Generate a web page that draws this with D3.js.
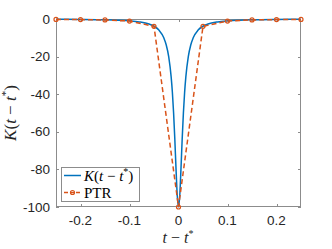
<!DOCTYPE html>
<html><head><meta charset="utf-8">
<script src="https://cdn.jsdelivr.net/npm/d3@7"></script>
<style>body{margin:0;background:#fff}svg{display:block}</style>
</head><body>
<script>
// Data
const kT = [-0.25,-0.2,-0.15,-0.125,-0.1,-0.08,-0.06,-0.05,-0.04,-0.03,-0.025,-0.02,-0.015,-0.0125,-0.01,-0.0075,-0.005,-0.0025,0,
            0.0025,0.005,0.0075,0.01,0.0125,0.015,0.02,0.025,0.03,0.04,0.05,0.06,0.08,0.1,0.125,0.15,0.2,0.25];
const kV = [-0.16,-0.25,-0.44,-0.64,-0.99,-1.54,-2.7,-3.85,-5.88,-10,-13.8,-20,-30.8,-39,-50,-64,-80,-94.1,-100,
            -94.1,-80,-64,-50,-39,-30.8,-20,-13.8,-10,-5.88,-3.85,-2.7,-1.54,-0.99,-0.64,-0.44,-0.25,-0.16];
const ptrT = [-0.25,-0.2,-0.15,-0.1,-0.05,0,0.05,0.1,0.15,0.2,0.25];
const ptrV = [-0.2,-0.3,-0.5,-1.1,-3.9,-100,-3.9,-1.1,-0.5,-0.3,-0.2];
const xTicks = [-0.2,-0.1,0,0.1,0.2];
const yTicks = [0,-20,-40,-60,-80,-100];

const W=332,H=249, L=56, R=301, T=19, B=207;
const blue="#0072BD", orange="#D95319";
const svg=d3.select("body").append("svg").attr("width",W).attr("height",H);
const x=d3.scaleLinear().domain([-0.25,0.25]).range([L,R]);
const y=d3.scaleLinear().domain([-100,0]).range([B,T]);

const tickFont="'Liberation Sans', Arial, sans-serif";
const axCol="#8c8c8c";
svg.append("rect").attr("x",L+0.5).attr("y",T+0.5).attr("width",R-L-1).attr("height",B-T-1)
  .attr("fill","none").attr("stroke",axCol).attr("stroke-width",1);
const g=svg.append("g").attr("stroke",axCol).attr("stroke-width",1);
xTicks.forEach(v=>{const px=Math.round(x(v))+0.5;
  g.append("line").attr("x1",px).attr("x2",px).attr("y1",B).attr("y2",B-3);
  g.append("line").attr("x1",px).attr("x2",px).attr("y1",T).attr("y2",T+3);});
yTicks.forEach(v=>{const py=Math.round(y(v))+0.5;
  g.append("line").attr("x1",L).attr("x2",L+3).attr("y1",py).attr("y2",py);
  g.append("line").attr("x1",R).attr("x2",R-3).attr("y1",py).attr("y2",py);});
svg.selectAll(".xl").data(xTicks).enter().append("text")
  .attr("x",d=>x(d)).attr("y",225).attr("text-anchor","middle")
  .attr("font-family",tickFont).attr("font-size",13.5).attr("fill","#262626")
  .text(d=>d===0?"0":d3.format(".1f")(d).replace("−","-"));
svg.selectAll(".yl").data(yTicks).enter().append("text")
  .attr("x",50).attr("y",d=>y(d)+4.5).attr("text-anchor","end")
  .attr("font-family",tickFont).attr("font-size",13.5).attr("fill","#262626")
  .text(d=>String(d));

const kData=kT.map((t,i)=>[t,kV[i]]);
const pData=ptrT.map((t,i)=>[t,ptrV[i]]);
svg.append("path").attr("d",d3.line().x(d=>x(d[0])).y(d=>y(d[1])).curve(d3.curveMonotoneX)(kData)).attr("fill","none")
  .attr("stroke",blue).attr("stroke-width",1.5);
svg.append("path").attr("d",d3.line().x(d=>x(d[0])).y(d=>y(d[1]))(pData)).attr("fill","none")
  .attr("stroke",orange).attr("stroke-width",1.5).attr("stroke-dasharray","5,3");
svg.selectAll(".m").data(pData).enter().append("circle")
  .attr("cx",d=>x(d[0])).attr("cy",d=>y(d[1])).attr("r",2)
  .attr("fill","none").attr("stroke",orange).attr("stroke-width",1.2);

const serif="'Liberation Serif', 'Times New Roman', serif";
const xl=svg.append("text").attr("x",178).attr("y",243).attr("text-anchor","middle")
  .attr("font-family",serif).attr("font-size",16).attr("fill","#262626");
xl.append("tspan").attr("font-style","italic").text("t");
xl.append("tspan").text(" − ");
xl.append("tspan").attr("font-style","italic").text("t");
xl.append("tspan").attr("font-size",10).attr("dy",-6).text("*");

const yl=svg.append("text").attr("transform","translate(16,113) rotate(-90)").attr("text-anchor","middle")
  .attr("font-family",serif).attr("font-size",17).attr("fill","#262626");
yl.append("tspan").attr("font-style","italic").text("K");
yl.append("tspan").text("(");
yl.append("tspan").attr("font-style","italic").text("t");
yl.append("tspan").text(" − ");
yl.append("tspan").attr("font-style","italic").text("t");
yl.append("tspan").attr("font-size",11).attr("dy",-7).text("*");
yl.append("tspan").attr("dy",7).text(")");

svg.append("rect").attr("x",61.5).attr("y",167.5).attr("width",78).attr("height",34)
  .attr("fill","#fff").attr("stroke","#8c8c8c").attr("stroke-width",1);
svg.append("line").attr("x1",64).attr("x2",81).attr("y1",175.5).attr("y2",175.5)
  .attr("stroke",blue).attr("stroke-width",1.5);
svg.append("line").attr("x1",64).attr("x2",81).attr("y1",192.5).attr("y2",192.5)
  .attr("stroke",orange).attr("stroke-width",1.5).attr("stroke-dasharray","4,2");
svg.append("circle").attr("cx",72.5).attr("cy",192.5).attr("r",2)
  .attr("fill","none").attr("stroke",orange).attr("stroke-width",1.2);
const lt=svg.append("text").attr("x",84).attr("y",180.5).attr("font-family",serif).attr("font-size",15).attr("fill","#000");
lt.append("tspan").attr("font-style","italic").text("K");
lt.append("tspan").text("(");
lt.append("tspan").attr("font-style","italic").text("t");
lt.append("tspan").text(" − ");
lt.append("tspan").attr("font-style","italic").text("t");
lt.append("tspan").attr("font-size",10).attr("dy",-6).text("*");
lt.append("tspan").attr("dy",6).text(")");
svg.append("text").attr("x",84).attr("y",197.5).attr("font-family",serif).attr("font-size",15)
  .attr("fill","#000").text("PTR");
</script>
</body></html>
